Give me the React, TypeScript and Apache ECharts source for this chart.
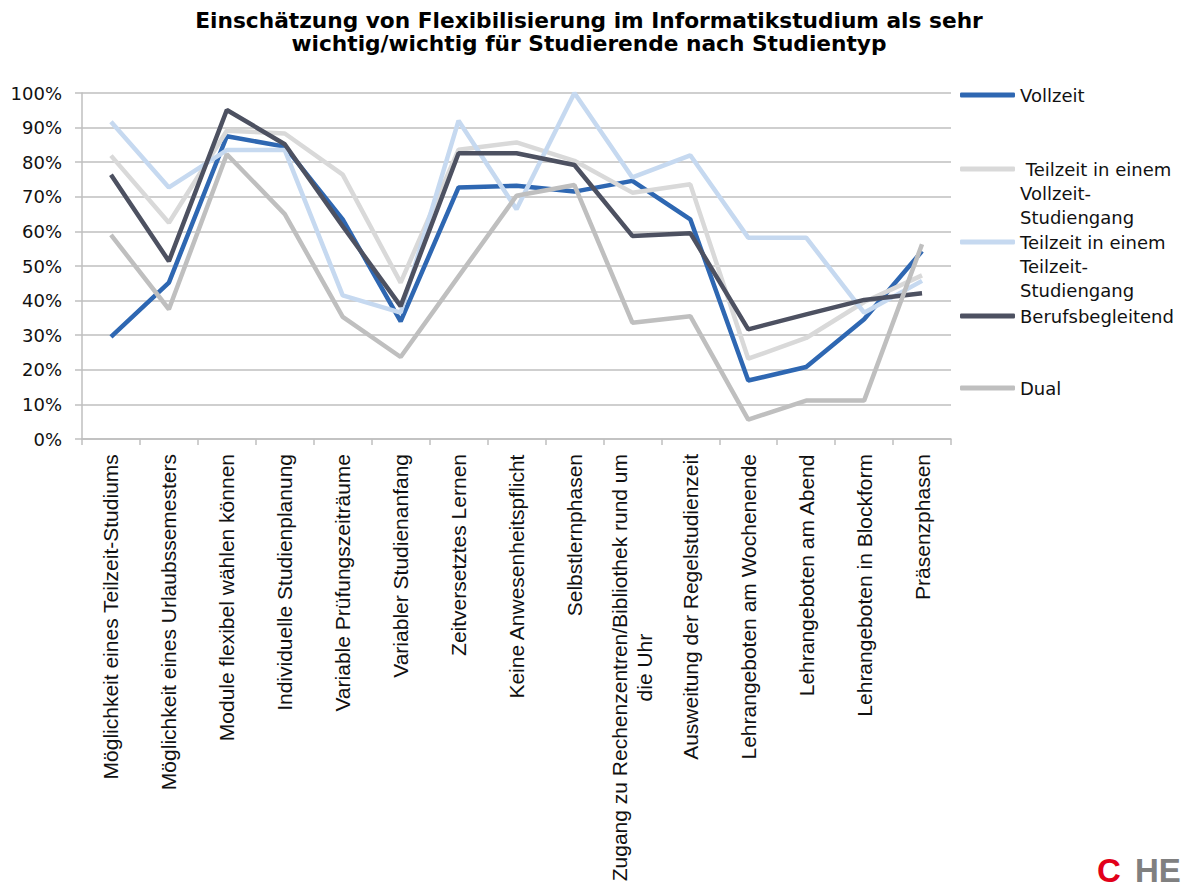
import React, { useEffect, useRef } from "react";
import * as echarts from "echarts";

const categories = [
  "Möglichkeit eines Teilzeit-Studiums",
  "Möglichkeit eines Urlaubssemesters",
  "Module flexibel wählen können",
  "Individuelle Studienplanung",
  "Variable Prüfungszeiträume",
  "Variabler Studienanfang",
  "Zeitversetztes Lernen",
  "Keine Anwesenheitspflicht",
  "Selbstlernphasen",
  "Zugang zu Rechenzentren/Bibliothek rund um\ndie Uhr",
  "Ausweitung der Regelstudienzeit",
  "Lehrangeboten am Wochenende",
  "Lehrangeboten am Abend",
  "Lehrangeboten in Blockform",
  "Präsenzphasen",
];

const seriesNames = [
  "Vollzeit",
  "Teilzeit in einem Vollzeit-Studiengang",
  "Teilzeit in einem Teilzeit-Studiengang",
  "Berufsbegleitend",
  "Dual",
];

const legendLabels = [
  "Vollzeit",
  " Teilzeit in einem\nVollzeit-\nStudiengang",
  "Teilzeit in einem\nTeilzeit-\nStudiengang",
  "Berufsbegleitend",
  "Dual",
];

const vollzeit = [29.5, 45.2, 87.5, 84.5, 63.5, 34, 72.7, 73.2, 71.5, 74.6, 63.5, 16.9, 20.8, 34.6, 54.3];
const teilzeitVollzeit = [81.9, 62.5, 89.1, 88.3, 76.4, 45.2, 83.6, 85.7, 80.4, 71.2, 73.6, 23.2, 29.2, 39.6, 47.3];
const teilzeitTeilzeit = [91.7, 72.7, 83.5, 83.5, 41.5, 36.5, 92, 66.4, 100, 75.6, 82, 58.2, 58.2, 36.5, 45.7];
const berufsbegleitend = [76.4, 51.4, 95.1, 85.2, 61.5, 38.4, 82.6, 82.6, 79.2, 58.7, 59.5, 31.7, 36, 40.2, 42.1];
const dual = [59, 37.5, 82.3, 65, 35.3, 23.7, 47, 70.3, 73.4, 33.6, 35.5, 5.6, 11.1, 11.1, 56.3];

const yTicks = [0, 10, 20, 30, 40, 50, 60, 70, 80, 90, 100];

const seriesData = [vollzeit, teilzeitVollzeit, teilzeitTeilzeit, berufsbegleitend, dual];
const colors = ["#2E67B2", "#D9D9D9", "#C6D9F0", "#4D5161", "#BFBFBF"];

export default function App() {
  const ref = useRef<HTMLDivElement>(null);

  useEffect(() => {
    if (!ref.current) return;
    const chart = echarts.init(ref.current, null, { renderer: "svg" });

    const LH = 24;
    const legendIconY = [95, 169, 242, 316, 388];
    const legends = seriesNames.map((name, i) => {
      const realLines = legendLabels[i].split("\n").length;
      const blank = realLines - 1;
      const label = "\n".repeat(blank) + legendLabels[i];
      const boxH = (realLines + blank) * LH;
      return {
        orient: "vertical",
        left: 960,
        top: legendIconY[i] - boxH / 2,
        padding: 0,
        itemWidth: 55,
        itemHeight: 5,
        itemGap: 0,
        icon: "roundRect",
        selectedMode: false,
        data: [name],
        formatter: () => label,
        textStyle: {
          fontFamily: "DejaVu Sans",
          fontSize: 18,
          color: "#111",
          lineHeight: LH,
        },
      };
    });

    chart.setOption({
      animation: false,
      color: colors,
      title: {
        text:
          "Einschätzung von Flexibilisierung im Informatikstudium als sehr\nwichtig/wichtig für Studierende nach Studientyp",
        left: 589,
        top: 9,
        textAlign: "center",
        padding: 0,
        textStyle: {
          fontFamily: "DejaVu Sans",
          fontWeight: "bold",
          fontSize: 21.7,
          lineHeight: 23,
          color: "#000",
        },
      },
      legend: legends,
      grid: { left: 82, right: 236, top: 93, bottom: 449, containLabel: false },
      xAxis: {
        type: "category",
        data: categories,
        boundaryGap: true,
        axisLine: { show: true, lineStyle: { color: "#BFBFBF", width: 1.5 } },
        axisTick: { show: true, length: 6, lineStyle: { color: "#BFBFBF", width: 1.5 } },
        axisLabel: {
          rotate: 90,
          interval: 0,
          margin: 15,
          color: "#111",
          fontFamily: "Liberation Sans",
          fontSize: 21,
          lineHeight: 25,
          formatter: (v: string) =>
            v
              .split("\n")
              .map((s) => "{c|" + s + "}")
              .join("\n"),
          rich: {
            c: {
              align: "center",
              fontFamily: "Liberation Sans",
              fontSize: 21,
              lineHeight: 25,
              color: "#111",
            },
          },
        },
      },
      yAxis: {
        type: "value",
        min: yTicks[0],
        max: yTicks[yTicks.length - 1],
        interval: 10,
        axisLine: { show: true, lineStyle: { color: "#BFBFBF", width: 1.5 } },
        axisTick: { show: true, length: 7, lineStyle: { color: "#BFBFBF", width: 1.5 } },
        splitLine: { show: true, lineStyle: { color: "#BFBFBF", width: 1.5 } },
        axisLabel: {
          margin: 20,
          color: "#111",
          fontFamily: "DejaVu Sans",
          fontSize: 18,
          formatter: "{value}%",
        },
      },
      series: seriesNames.map((name, i) => ({
        name,
        type: "line",
        data: seriesData[i],
        symbol: "none",
        showSymbol: false,
        lineStyle: { width: 4.5, color: colors[i] },
        itemStyle: { color: colors[i] },
      })),
      graphic: [
        {
          type: "text",
          left: 1097,
          top: 854,
          style: {
            text: "C",
            fill: "#E2001A",
            fontFamily: "Liberation Sans",
            fontWeight: "bold",
            fontSize: 33,
          },
        },
        {
          type: "text",
          left: 1135,
          top: 854,
          style: {
            text: "HE",
            fill: "#808080",
            fontFamily: "Liberation Sans",
            fontWeight: "bold",
            fontSize: 33,
          },
        },
      ],
    });

    return () => chart.dispose();
  }, []);

  return (
    <div
      ref={ref}
      style={{ position: "absolute", left: 0, top: 0, width: 1187, height: 888 }}
    />
  );
}
